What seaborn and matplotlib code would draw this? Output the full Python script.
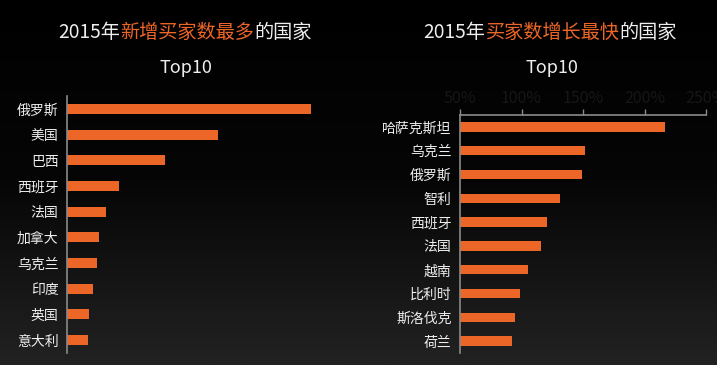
import numpy as np
import pandas as pd
import matplotlib
matplotlib.use("Agg")
import matplotlib.pyplot as plt
import seaborn as sns
from matplotlib.colors import LinearSegmentedColormap

# ---- data ----
left_countries = ["俄罗斯", "美国", "巴西", "西班牙", "法国", "加拿大", "乌克兰", "印度", "英国", "意大利"]
left_values = [244, 151, 98, 52, 39, 32, 30, 26, 22, 21]

right_countries = ["哈萨克斯坦", "乌克兰", "俄罗斯", "智利", "西班牙", "法国", "越南", "比利时", "斯洛伐克", "荷兰"]
right_values = [217, 152, 149, 131, 121, 116, 105, 99, 95, 92]
right_ticks = [50, 100, 150, 200, 250]
right_tick_labels = ["50%", "100%", "150%", "200%", "250%"]

left_title = ["2015年", "新增买家数最多", "的国家"]
right_title = ["2015年", "买家数增长最快", "的国家"]
subtitle = "Top10"

# ---- style ----
sns.set_theme(style="white")
plt.rcParams["font.family"] = ["Noto Sans CJK SC", "DejaVu Sans"]
ORANGE = "#EC6628"
WHITE = "#EEEEEE"
SPINE = "#8A8A8A"
TICKTXT = "#161616"

W, H = 717, 365
fig = plt.figure(figsize=(W / 100, H / 100), dpi=100)

# gradient background
bg = fig.add_axes([0, 0, 1, 1], zorder=-10)
grad = np.linspace(0, 1, 256).reshape(-1, 1)
cmap = LinearSegmentedColormap.from_list("bg", ["#000000", "#060606", "#222222"])
bg.imshow(grad, aspect="auto", cmap=cmap, extent=[0, 1, 0, 1], origin="upper")
bg.set_axis_off()


def px_axes(x0, y0, x1, y1):
    return fig.add_axes([x0 / W, 1 - y1 / H, (x1 - x0) / W, (y1 - y0) / H])


# left chart
axl = px_axes(67, 96, 340, 353)
dfl = pd.DataFrame({"country": left_countries, "value": left_values})
sns.barplot(data=dfl, x="value", y="country", orient="h", color=ORANGE,
            width=0.39, saturation=1, linewidth=0, edgecolor="none", ax=axl)
axl.set_xlim(0, 273)
axl.set_facecolor("none")
for s in ["top", "right", "bottom"]:
    axl.spines[s].set_visible(False)
axl.spines["left"].set_color(SPINE)
axl.spines["left"].set_linewidth(1.2)
axl.set_xticks([])
axl.set_xlabel("")
axl.set_ylabel("")
axl.tick_params(axis="y", length=0, pad=6, labelsize=10, labelcolor=WHITE)

# right chart
axr = px_axes(460, 115, 706, 353)
dfr = pd.DataFrame({"country": right_countries, "value": right_values})
sns.barplot(data=dfr, x="value", y="country", orient="h", color=ORANGE,
            width=0.4, saturation=1, linewidth=0, edgecolor="none", ax=axr)
axr.set_xlim(50, 250)
axr.set_facecolor("none")
for s in ["right", "bottom"]:
    axr.spines[s].set_visible(False)
for s in ["top", "left"]:
    axr.spines[s].set_color(SPINE)
    axr.spines[s].set_linewidth(1.2)
axr.set_xticks(right_ticks)
axr.set_xticklabels(right_tick_labels)
axr.tick_params(axis="x", which="both", top=True, bottom=False,
                labeltop=True, labelbottom=False, direction="out",
                length=4, width=1, color=SPINE, labelcolor=TICKTXT,
                labelsize=11.5, pad=2)
axr.set_xlabel("")
axr.set_ylabel("")
axr.tick_params(axis="y", length=0, pad=6, labelsize=10, labelcolor=WHITE)

fig.canvas.draw()
renderer = fig.canvas.get_renderer()


def mixed_title(parts, cx, cy, size=13.8):
    colors = [WHITE, ORANGE, WHITE]
    texts = []
    widths = []
    for p, c in zip(parts, colors):
        t = fig.text(0, 0, p, color=c, fontsize=size, va="center", ha="left")
        bb = t.get_window_extent(renderer)
        widths.append(bb.width)
        texts.append(t)
    total = sum(widths)
    x = cx - total / 2
    for t, w in zip(texts, widths):
        t.set_position((x / W, 1 - cy / H))
        x += w


mixed_title(left_title, 185, 32)
mixed_title(right_title, 550, 32)
fig.text(186 / W, 1 - 68 / H, subtitle, color=WHITE, fontsize=13, ha="center", va="center")
fig.text(552 / W, 1 - 68 / H, subtitle, color=WHITE, fontsize=13, ha="center", va="center")

fig.savefig("out.png", dpi=100)
